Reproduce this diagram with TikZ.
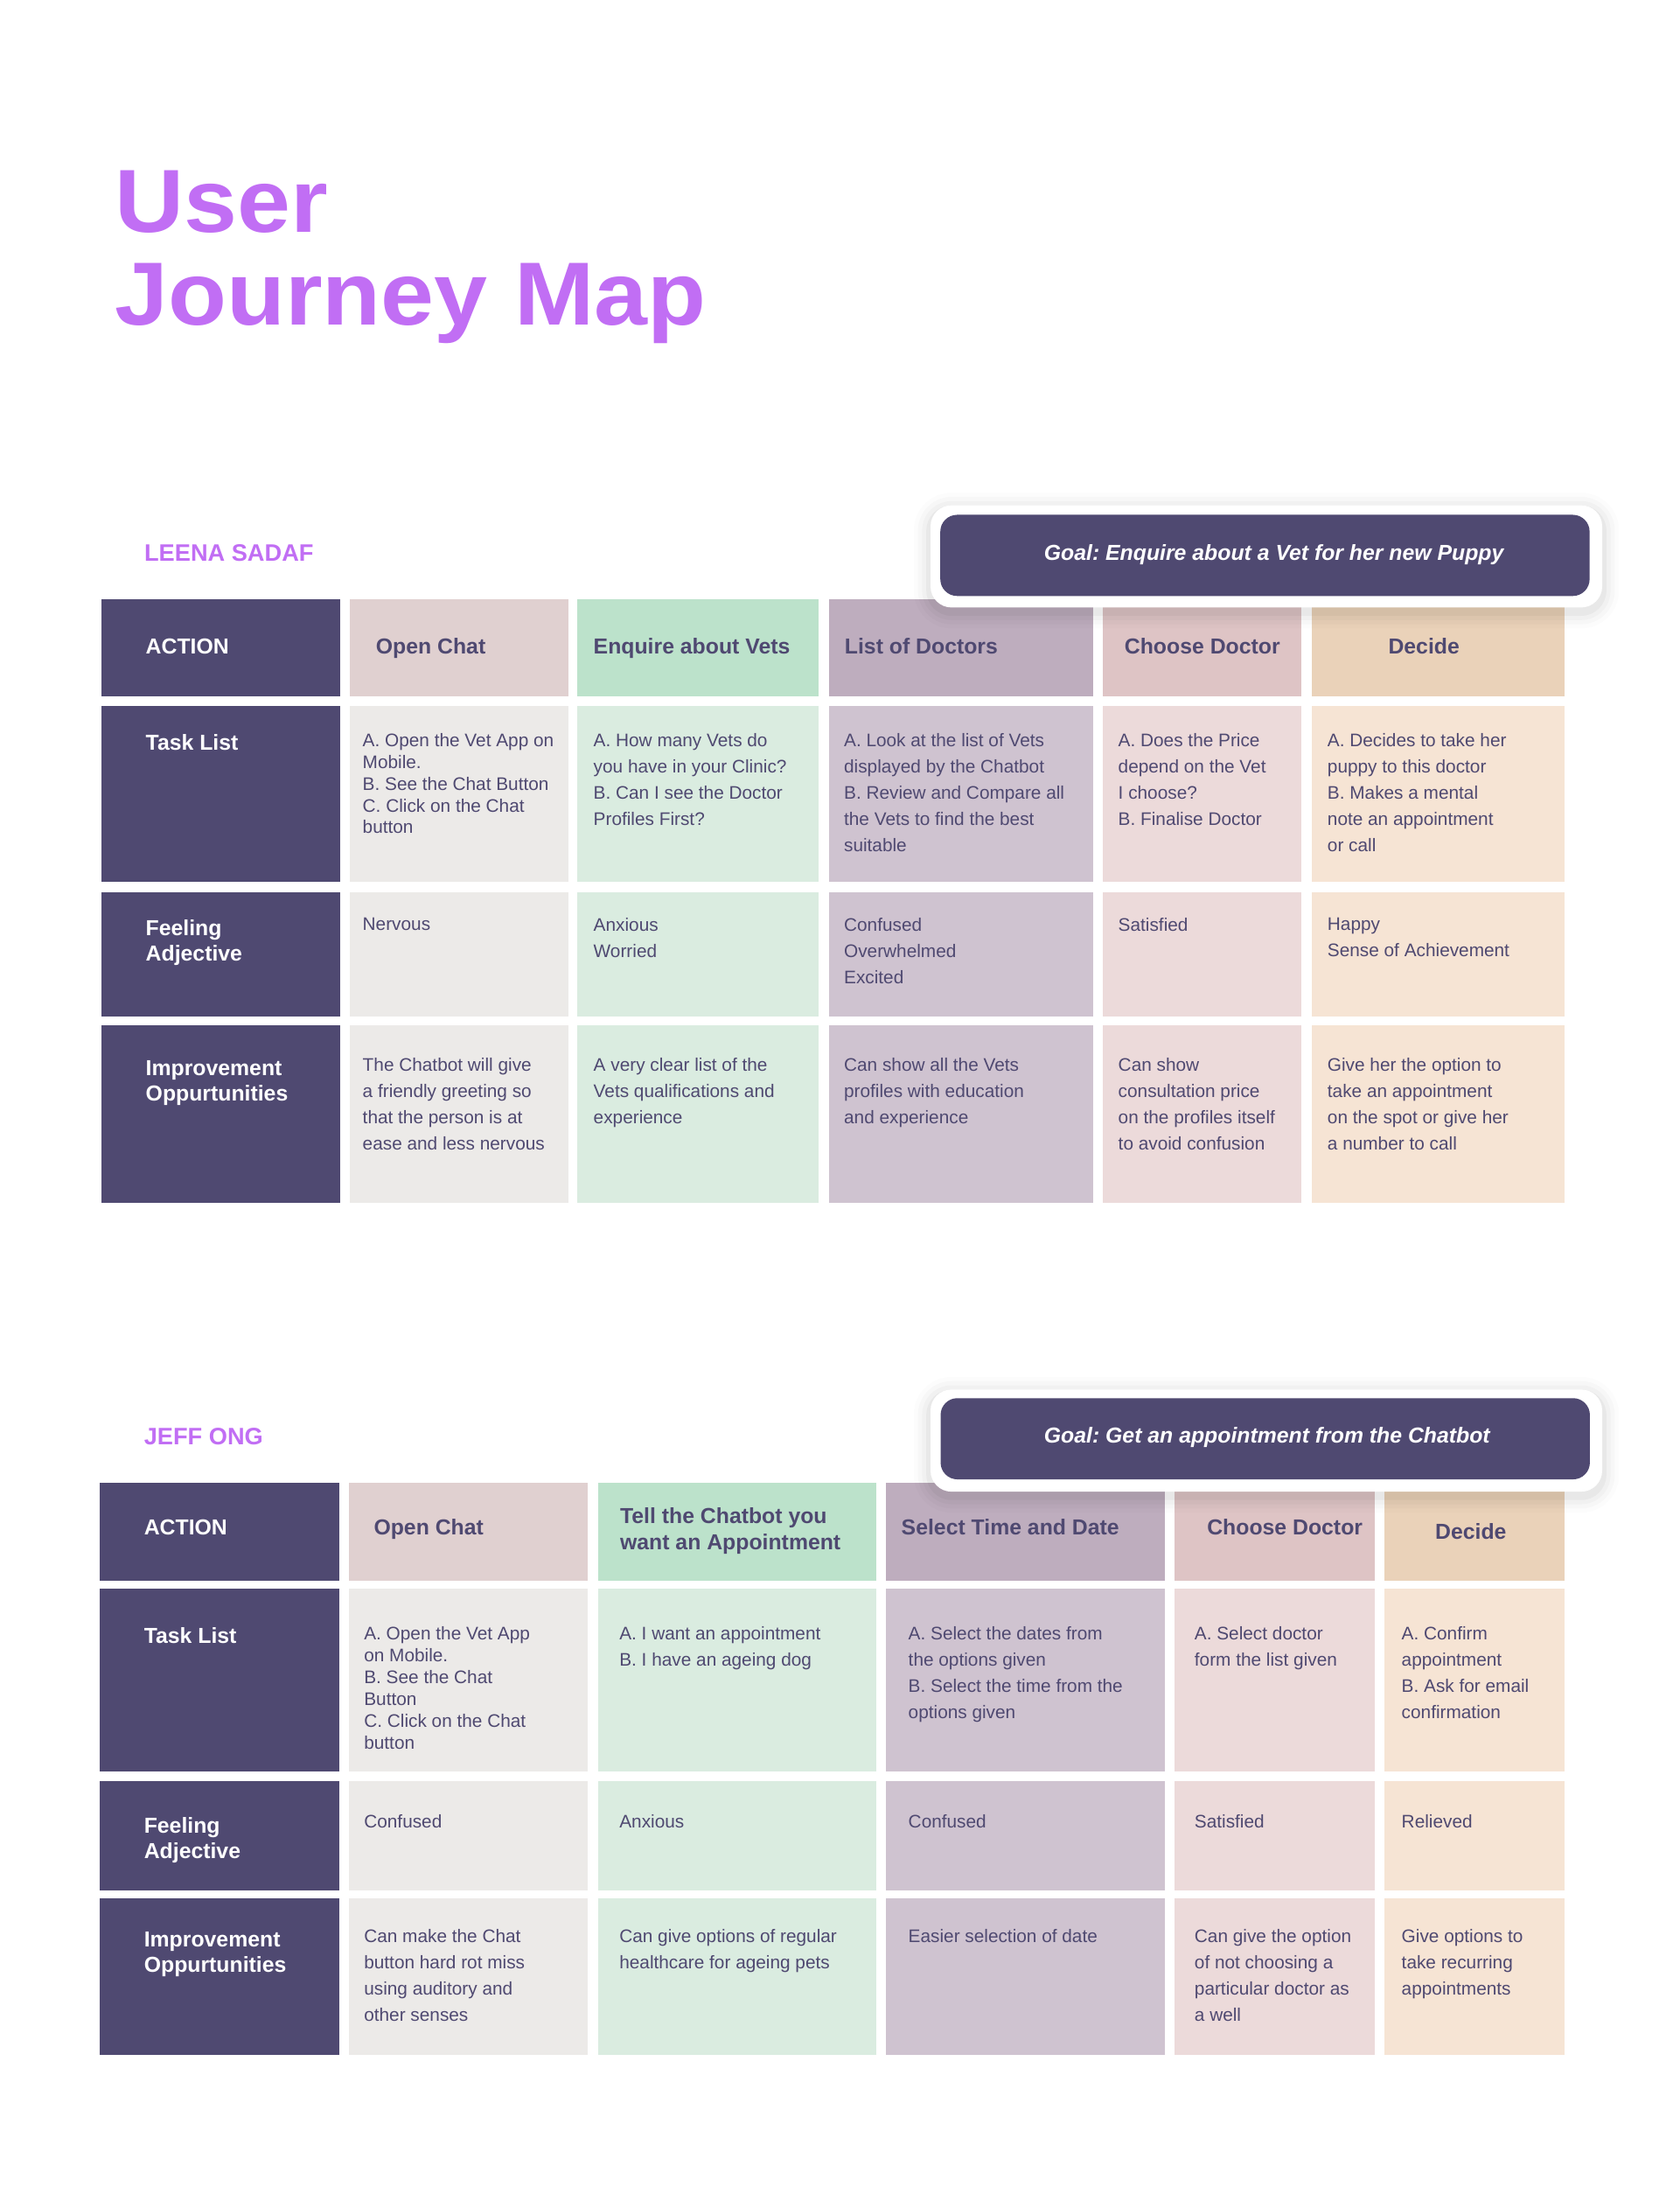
\documentclass[tikz,border=0pt]{standalone}
\usepackage{fontspec}
\setmainfont{Liberation Sans}
\usepackage{graphicx}
\usepackage{tikz}

\definecolor{ink}{HTML}{4F4971}
\definecolor{jmpurple}{HTML}{C16EF4}
\definecolor{headA}{HTML}{E0D0D0}
\definecolor{bodyA}{HTML}{ECEAE8}
\definecolor{headB}{HTML}{BCE2CB}
\definecolor{bodyB}{HTML}{DAECE0}
\definecolor{headC}{HTML}{BEADBE}
\definecolor{bodyC}{HTML}{CFC3D0}
\definecolor{headD}{HTML}{DEC4C5}
\definecolor{bodyD}{HTML}{ECDADA}
\definecolor{headE}{HTML}{EAD2B9}
\definecolor{bodyE}{HTML}{F6E4D4}

\tikzset{
	cell/.style={rectangle, inner sep=0pt, anchor=north west},
	lbl/.style={anchor=north west, yshift=11.1pt, inner sep=0pt, align=left, text=white, font=\bfseries\fontsize{15.5}{18.3}\selectfont},
	head/.style={anchor=north west, yshift=11.1pt, inner sep=0pt, align=left, text=ink, font=\bfseries\fontsize{15.5}{18.75}\selectfont},
	body/.style={anchor=north west, yshift=9.4pt, inner sep=0pt, align=left, text=ink, font=\fontsize{13}{18.75}\selectfont},
	tight/.style={body, font=\fontsize{13}{15.6}\selectfont},
	persona/.style={anchor=base west, inner sep=0pt, text=jmpurple, font=\bfseries\fontsize{17}{20}\selectfont},
	goalframe/.style={rectangle, rounded corners=15, fill=white, minimum width=480, minimum height=73, inner sep=0pt},
	goalbox/.style={rectangle, rounded corners=12, fill=ink, minimum width=464, minimum height=58, inner sep=0pt},
	goaltext/.style={anchor=base west, inner sep=0pt, text=white, font=\bfseries\itshape\fontsize{15.5}{18}\selectfont}
}

\begin{document}
\frenchspacing
\begin{tikzpicture}[x=1pt, y=-1pt]

	\useasboundingbox (0,0) rectangle (1200,1567.5);
	\fill[white] (0,0) rectangle (1200,1567.5);

	\node[anchor=north west, inner sep=0pt, align=left, text=jmpurple, font=\bfseries\fontsize{64}{66.4}\selectfont] (title) at (82,121.5)
		{\scalebox{1.07}[1]{User}\\\scalebox{1.07}[1]{Journey Map}};

	% Leena
	\node[persona] (leena) at (103,401) {LEENA SADAF};
	\foreach \x/\w/\hc/\bc [count=\i] in {72/171/ink/ink, 250/156/headA/bodyA, 412/173/headB/bodyB, 592/189/headC/bodyC, 788/142/headD/bodyD, 937/181/headE/bodyE}{
		\node[cell, fill=\hc, minimum width=\w, minimum height=69] (lh\i) at (\x,428) {};
		\foreach \y/\h [count=\j] in {504/126, 637/89, 732/127}
			\node[cell, fill=\bc, minimum width=\w, minimum height=\h] (l\j-\i) at (\x,\y) {};
	}

	\node[lbl] (lact) at (104,467) {ACTION};
	\node[lbl] (ltask) at (104,535.5) {Task List};
	\node[lbl] (lfeel) at (104,668) {Feeling\\Adjective};
	\node[lbl] (limp) at (104,768.4) {Improvement\\Oppurtunities};

	\node[head] (lhead1) at (268.5,467) {Open Chat};
	\node[head] (lhead2) at (424,467) {Enquire about Vets};
	\node[head] (lhead3) at (603.5,467) {List of Doctors};
	\node[head] (lhead4) at (803.5,467) {Choose Doctor};
	\node[head] (lhead5) at (992,467) {Decide};

	\node[tight] (ltask1) at (259,533) {A. Open the Vet App on\\Mobile.\\B. See the Chat Button\\C. Click on the Chat\\button};
	\node[body] (ltask2) at (424,533) {A. How many Vets do\\you have in your Clinic?\\B. Can I see the Doctor\\Profiles First?};
	\node[body] (ltask3) at (603,533) {A. Look at the list of Vets\\displayed by the Chatbot\\B. Review and Compare all\\the Vets to find the best\\suitable};
	\node[body] (ltask4) at (799,533) {A. Does the Price\\depend on the Vet\\I choose?\\B. Finalise Doctor};
	\node[body] (ltask5) at (948.5,533) {A. Decides to take her\\puppy to this doctor\\B. Makes a mental\\note an appointment\\or call};

	\node[body] (lfeel1) at (259,664.8) {Nervous};
	\node[body] (lfeel2) at (424,664.8) {Anxious\\Worried};
	\node[body] (lfeel3) at (603,664.8) {Confused\\Overwhelmed\\Excited};
	\node[body] (lfeel4) at (799,664.8) {Satisfied};
	\node[body] (lfeel5) at (948.5,664.8) {Happy\\Sense of Achievement};

	\node[body] (limp1) at (259,765.3) {The Chatbot will give\\a friendly greeting so\\that the person is at\\ease and less nervous};
	\node[body] (limp2) at (424,765.3) {A very clear list of the\\Vets qualifications and\\experience};
	\node[body] (limp3) at (603,765.3) {Can show all the Vets\\profiles with education\\and experience};
	\node[body] (limp4) at (799,765.3) {Can show\\consultation price\\on the profiles itself\\to avoid confusion};
	\node[body] (limp5) at (948.5,765.3) {Give her the option to\\take an appointment\\on the spot or give her\\a number to call};

	% Jeff
	\node[persona] (jeff) at (102.8,1032.3) {JEFF ONG};
	\foreach \x/\w/\hc/\bc [count=\i] in {71/171.5/ink/ink, 249/171/headA/bodyA, 427/199/headB/bodyB, 633/199.5/headC/bodyC, 839/143.5/headD/bodyD, 989/129/headE/bodyE}{
		\node[cell, fill=\hc, minimum width=\w, minimum height=70] (jh\i) at (\x,1059) {};
		\foreach \y/\h [count=\j] in {1135/130.5, 1272/78.5, 1356/112}
			\node[cell, fill=\bc, minimum width=\w, minimum height=\h] (j\j-\i) at (\x,\y) {};
	}

	\node[lbl] (jact) at (102.8,1096.5) {ACTION};
	\node[lbl] (jtask) at (102.8,1174) {Task List};
	\node[lbl] (jfeel) at (102.8,1309.3) {Feeling\\Adjective};
	\node[lbl] (jimp) at (102.8,1391) {Improvement\\Oppurtunities};

	\node[head] (jhead1) at (267,1096.5) {Open Chat};
	\node[head] (jhead2) at (443,1087.8) {Tell the Chatbot you\\want an Appointment};
	\node[head] (jhead3) at (644,1096.5) {Select Time and Date};
	\node[head] (jhead4) at (862.5,1096.5) {Choose Doctor};
	\node[head] (jhead5) at (1025.5,1099.3) {Decide};

	\node[tight] (jtask1) at (260,1171.2) {A. Open the Vet App\\on Mobile.\\B. See the Chat\\Button\\C. Click on the Chat\\button};
	\node[body] (jtask2) at (442.5,1171.2) {A. I want an appointment\\B. I have an ageing dog};
	\node[body] (jtask3) at (649,1171.2) {A. Select the dates from\\the options given\\B. Select the time from the\\options given};
	\node[body] (jtask4) at (853.5,1171.2) {A. Select doctor\\form the list given};
	\node[body] (jtask5) at (1001.5,1171.2) {A. Confirm\\appointment\\B. Ask for email\\confirmation};

	\node[body] (jfeel1) at (260,1306) {Confused};
	\node[body] (jfeel2) at (442.5,1306) {Anxious};
	\node[body] (jfeel3) at (649,1306) {Confused};
	\node[body] (jfeel4) at (853.5,1306) {Satisfied};
	\node[body] (jfeel5) at (1001.5,1306) {Relieved};

	\node[body] (jimp1) at (260,1387.8) {Can make the Chat\\button hard rot miss\\using auditory and\\other senses};
	\node[body] (jimp2) at (442.5,1387.8) {Can give options of regular\\healthcare for ageing pets};
	\node[body] (jimp3) at (649,1387.8) {Easier selection of date};
	\node[body] (jimp4) at (853.5,1387.8) {Can give the option\\of not choosing a\\particular doctor as\\a well};
	\node[body] (jimp5) at (1001.5,1387.8) {Give options to\\take recurring\\appointments};

	% goals
	\foreach \gy in {397.5, 1029.2}
		\foreach \s/\o in {12/0.012, 9/0.018, 6/0.025, 3/0.035}
			\fill[black, opacity=\o, rounded corners=15+\s] (665-\s,\gy-36.5-\s+3) rectangle (1145+\s,\gy+36.5+\s+3);

	\node[goalframe] (lframe) at (905,397.5) {};
	\node[goalbox] (lgoal) at (904,396.8) {};
	\node[goaltext] (lgoaltxt) at (746,400) {Goal: Enquire about a Vet for her new Puppy};

	\node[goalframe] (jframe) at (905,1029.2) {};
	\node[goalbox] (jgoal) at (904.2,1027.9) {};
	\node[goaltext] (jgoaltxt) at (746,1031) {Goal: Get an appointment from the Chatbot};

\end{tikzpicture}
\end{document}
